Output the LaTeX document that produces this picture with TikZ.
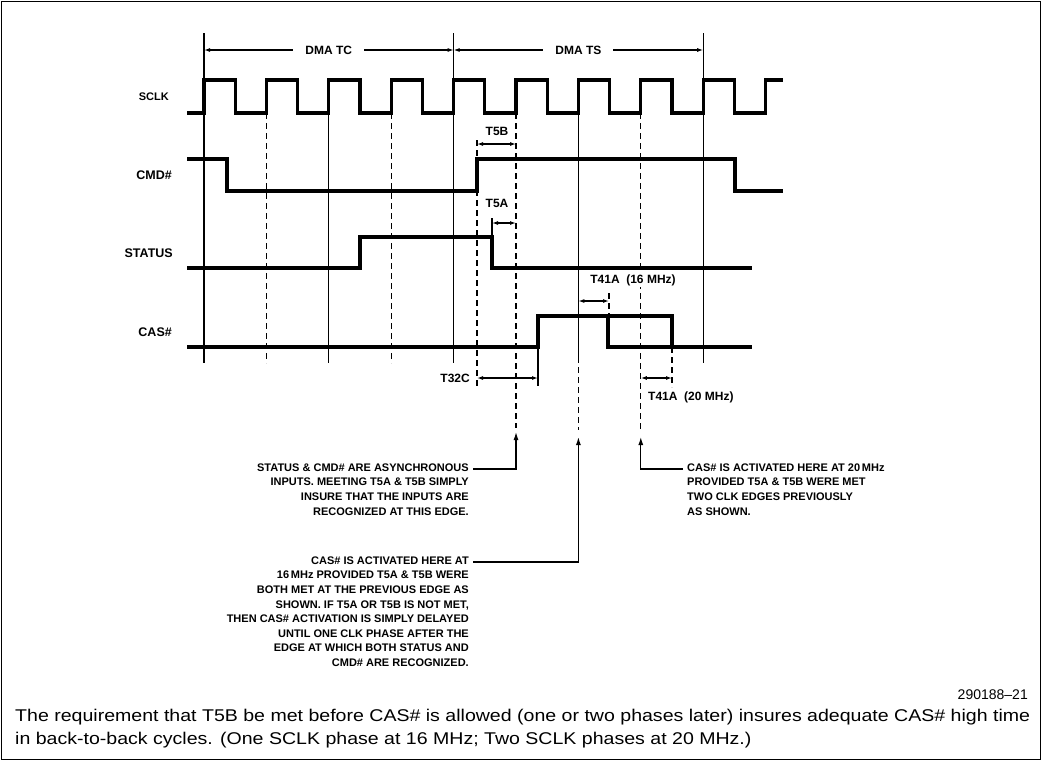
\documentclass[tikz,border=0pt]{standalone}
\usepackage{fontspec}
\setmainfont{Liberation Sans}
\newfontfamily\captfont[FakeStretch=1.15]{Liberation Sans}
\usetikzlibrary{arrows.meta}

\begin{document}
\begin{tikzpicture}[x=1pt,y=-1pt,
  wave/.style={line width=3.2pt, line join=miter},
  grid/.style={line width=1.1pt},
  gridd/.style={line width=1.1pt, dash pattern=on 6pt off 4pt},
  dim/.style={line width=1.1pt, {Latex[length=6pt,width=4pt]}-{Latex[length=6pt,width=4pt]}},
  pointer/.style={line width=1.2pt, -{Latex[length=8pt,width=5pt]}},
  sig/.style={font=\fontsize{12.5}{14}\selectfont\bfseries, anchor=east, inner sep=0pt},
  tag/.style={font=\fontsize{12}{14}\selectfont\bfseries, inner sep=1pt},
  note/.style={font=\fontsize{11}{14.55}\selectfont\bfseries, inner sep=0pt},
  capt/.style={font=\captfont\fontsize{17}{23}\selectfont, inner sep=0pt, anchor=north west, align=left}]
\useasboundingbox (0,0) rectangle (1042,761);
\draw[line width=1.5pt] (1.5,1.5) rectangle (1040.5,759.5);

% signal names
\node[sig, font=\fontsize{11}{14}\selectfont\bfseries] (sclk) at (169,97) {SCLK};
\node[sig] (cmd) at (172,175) {CMD\#};
\node[sig] (status) at (173,253) {STATUS};
\node[sig] (cas) at (172,332) {CAS\#};

% clock edges
\foreach \k in {0,4,8} \draw[grid] ({204+62.4*\k},33) -- ({204+62.4*\k},363);
\foreach \k in {2,6} \draw[grid] ({204+62.4*\k},80) -- ({204+62.4*\k},363);
\foreach \k in {1,3} \draw[gridd] ({204+62.4*\k},113) -- ({204+62.4*\k},363);
\draw[gridd] (516,113) -- (516,428);
\draw[gridd] (640.8,113) -- (640.8,430);
\draw[gridd] (578.4,367) -- (578.4,430);

% cycle markers
\draw[dim] (204,50) -- node[tag, fill=white, inner xsep=12pt] (dmatc) {DMA TC} (453.6,50);
\draw[dim] (453.6,50) -- node[tag, fill=white, inner xsep=12pt] (dmats) {DMA TS} (703.2,50);

% waveforms
\draw[wave] (187,113) foreach \k in {0,...,8} { -- ({204+62.4*\k},113) -- ({204+62.4*\k},80) -- ({235.2+62.4*\k},80) -- ({235.2+62.4*\k},113) } -- (765.6,113) -- (765.6,80) -- (783,80);
\draw[wave] (187,159) -- (227,159) -- (227,191) -- (477,191) -- (477,159) -- (735,159) -- (735,191) -- (783,191);
\draw[wave] (187,268) -- (360,268) -- (360,237) -- (492,237) -- (492,268) -- (752,268);
\draw[wave] (187,347) -- (538,347) -- (538,316) -- (672,316) -- (672,347) -- (752,347);
\draw[wave] (608,316) -- (608,347) -- (672,347);

% timing ticks
\draw[gridd] (477,140) -- (477,386);
\draw[grid] (492,218) -- (492,237);
\draw[gridd] (609,293) -- (609,316);
\draw[grid] (538,347) -- (538,386);
\draw[gridd] (672,347) -- (672,387);

% timing parameters
\node[tag] (t5b) at (497,131) {T5B};
\draw[dim] (477,144) -- (516,144);
\node[tag] (t5a) at (497,203) {T5A};
\draw[dim] (492,223) -- (516,223);
\node[tag, fill=white] (t41a) at (633,280) {T41A \ (16 MHz)};
\draw[dim] (578.4,301) -- (609,301);
\node[tag, anchor=east] (t32c) at (471,378) {T32C};
\draw[dim] (477,378) -- (538,378);
\draw[dim] (640.8,378) -- (672,378);
\node[tag, anchor=west] (t41b) at (647,397) {T41A \ (20 MHz)};

% notes
\coordinate (tipa) at (516,432);
\coordinate (tipb) at (578.4,437);
\coordinate (tipc) at (640.8,437);
\node[note, anchor=north east, align=right] (notea) at (469,463.5)
  {STATUS \& CMD\# ARE ASYNCHRONOUS\\INPUTS. MEETING T5A \& T5B SIMPLY\\INSURE THAT THE INPUTS ARE\\RECOGNIZED AT THIS EDGE.};
\node[note, anchor=north east, align=right] (noteb) at (469,556.5)
  {CAS\# IS ACTIVATED HERE AT\\16\,MHz PROVIDED T5A \& T5B WERE\\BOTH MET AT THE PREVIOUS EDGE AS\\SHOWN. IF T5A OR T5B IS NOT MET,\\THEN CAS\# ACTIVATION IS SIMPLY DELAYED\\UNTIL ONE CLK PHASE AFTER THE\\EDGE AT WHICH BOTH STATUS AND\\CMD\# ARE RECOGNIZED.};
\node[note, anchor=north west, align=left] (notec) at (687,463.5)
  {CAS\# IS ACTIVATED HERE AT 20\,MHz\\PROVIDED T5A \& T5B WERE MET\\TWO CLK EDGES PREVIOUSLY\\AS SHOWN.};
\draw[pointer] ([xshift=4pt, yshift=-5.5pt]notea.north east) -| (tipa);
\draw[pointer] ([xshift=4pt, yshift=-5.5pt]noteb.north east) -| (tipb);
\draw[pointer] ([xshift=-4pt, yshift=-5.5pt]notec.north west) -| (tipc);

% caption
\node[font=\fontsize{14}{16}\selectfont, anchor=east, inner sep=0pt] (fig) at (1028,695) {290188–21};
\node[capt] (caption) at (15,709) {The requirement that T5B be met before CAS\# is allowed (one or two phases later) insures adequate CAS\# high time\\in back-to-back cycles. (One SCLK phase at 16 MHz; Two SCLK phases at 20 MHz.)};
\end{tikzpicture}
\end{document}
